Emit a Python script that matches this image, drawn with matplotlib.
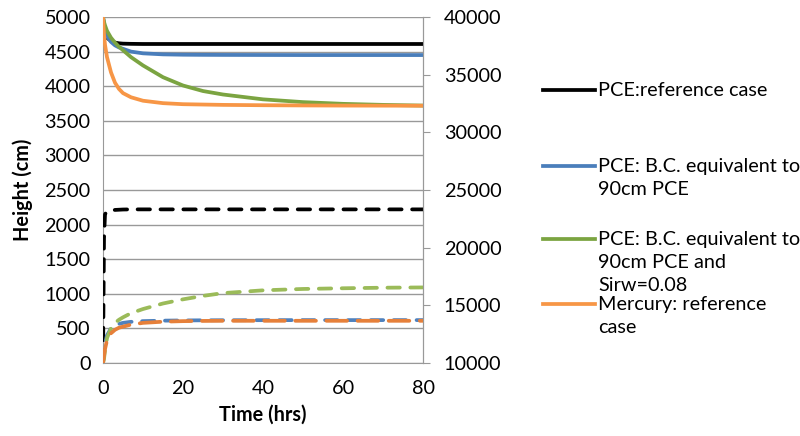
import matplotlib.pyplot as plt
from matplotlib.lines import Line2D

plt.rcParams['font.family'] = ['Lato', 'DejaVu Sans']

# time (hrs)
t = [0, 0.25, 0.5, 1, 2, 3, 4, 5, 7, 10, 15, 20, 25, 30, 40, 50, 60, 70, 80]

# solid curves, height (cm)
pce_ref = [5000, 4850, 4770, 4700, 4655, 4630, 4620, 4615, 4612, 4610, 4610, 4610,
           4610, 4610, 4610, 4610, 4610, 4610, 4610]
pce_bc = [5000, 4880, 4800, 4720, 4640, 4590, 4560, 4540, 4500, 4475, 4460, 4455,
          4453, 4452, 4451, 4450, 4450, 4450, 4450]
pce_sirw = [5000, 4930, 4880, 4800, 4700, 4630, 4570, 4520, 4420, 4300, 4130, 4010,
            3930, 3880, 3810, 3770, 3745, 3730, 3720]
mercury = [5000, 4750, 4600, 4420, 4200, 4050, 3960, 3900, 3840, 3790, 3755, 3740,
           3735, 3730, 3725, 3722, 3720, 3719, 3718]

# dashed curves, height (cm)
pce_ref_d = [0, 1800, 2150, 2190, 2205, 2212, 2215, 2218, 2220, 2220, 2220, 2220,
             2220, 2220, 2220, 2220, 2220, 2220, 2220]
pce_bc_d = [0, 150, 280, 400, 500, 545, 565, 580, 595, 605, 612, 615,
            617, 618, 619, 620, 620, 620, 620]
pce_sirw_d = [0, 60, 180, 360, 500, 580, 625, 660, 720, 780, 860, 920,
              970, 1010, 1050, 1070, 1080, 1088, 1092]
mercury_d = [0, 100, 200, 330, 430, 480, 510, 525, 555, 580, 597, 605,
             608, 610, 610, 610, 610, 610, 610]

labels = ['PCE:reference case',
          'PCE: B.C. equivalent to\n90cm PCE',
          'PCE: B.C. equivalent to\n90cm PCE and\nSirw=0.08',
          'Mercury: reference\ncase']
solid_colors = ['#000000', '#4a7ebb', '#7ba441', '#f79646']
dash_colors = ['#000000', '#4f81bd', '#9bbb59', '#e6803a']

fig = plt.figure(figsize=(8, 4.36), dpi=100)
ax = fig.add_axes([103 / 800, 1 - 363 / 436, 320 / 800, 346 / 436])
ax2 = ax.twinx()

grid_c = '#999999'
for s in ['left', 'right', 'bottom']:
    ax.spines[s].set_color(grid_c)
ax.spines['top'].set_visible(False)
for s in ['left', 'top', 'bottom']:
    ax2.spines[s].set_visible(False)
ax2.spines['right'].set_color(grid_c)

ax.yaxis.grid(True, color=grid_c, linewidth=1)
ax.set_axisbelow(True)

lw = 2.7
dashed = [pce_ref_d, pce_bc_d, pce_sirw_d, mercury_d]
solids = [pce_ref, pce_bc, pce_sirw, mercury]
for i, (d, c) in enumerate(zip(dashed, dash_colors)):
    dash = (5.5, 2.8) if i == 3 else (3.3, 2.8)
    ax.plot(t, d, color=c, lw=lw, linestyle=(0, dash), dash_capstyle='round',
            zorder=3 + i)
for i, (s, c) in enumerate(zip(solids, solid_colors)):
    ax.plot(t, s, color=c, lw=lw, zorder=8 + i)

ax.set_xlim(0, 80)
ax.set_ylim(0, 5000)
ax.set_xticks([0, 20, 40, 60, 80])
ax.set_yticks(range(0, 5001, 500))
ax2.set_ylim(10000, 40000)
ax2.set_yticks(range(10000, 40001, 5000))

fs = 14.3
ax.tick_params(axis='both', length=0, labelsize=fs, pad=9)
ax.tick_params(axis='x', pad=12)
ax2.tick_params(axis='y', length=5, color=grid_c, labelsize=fs, pad=10)

ax.set_ylabel('Height (cm)', fontsize=fs, fontweight='bold', labelpad=8)
ax.set_xlabel('Time (hrs)', fontsize=fs, fontweight='bold', labelpad=6)

# legend drawn by hand so the uneven Excel spacing is kept
first_y = [90, 166, 239, 304]
line_h = 23
for lab, c, y0 in zip(labels, solid_colors, first_y):
    fig.add_artist(Line2D([543 / 800, 595 / 800], [1 - y0 / 436] * 2, color=c,
                          lw=lw, transform=fig.transFigure))
    for k, part in enumerate(lab.split('\n')):
        fig.text(598 / 800, 1 - (y0 + k * line_h) / 436, part, fontsize=fs,
                 va='center', ha='left')

fig.savefig('out.png', dpi=100)
